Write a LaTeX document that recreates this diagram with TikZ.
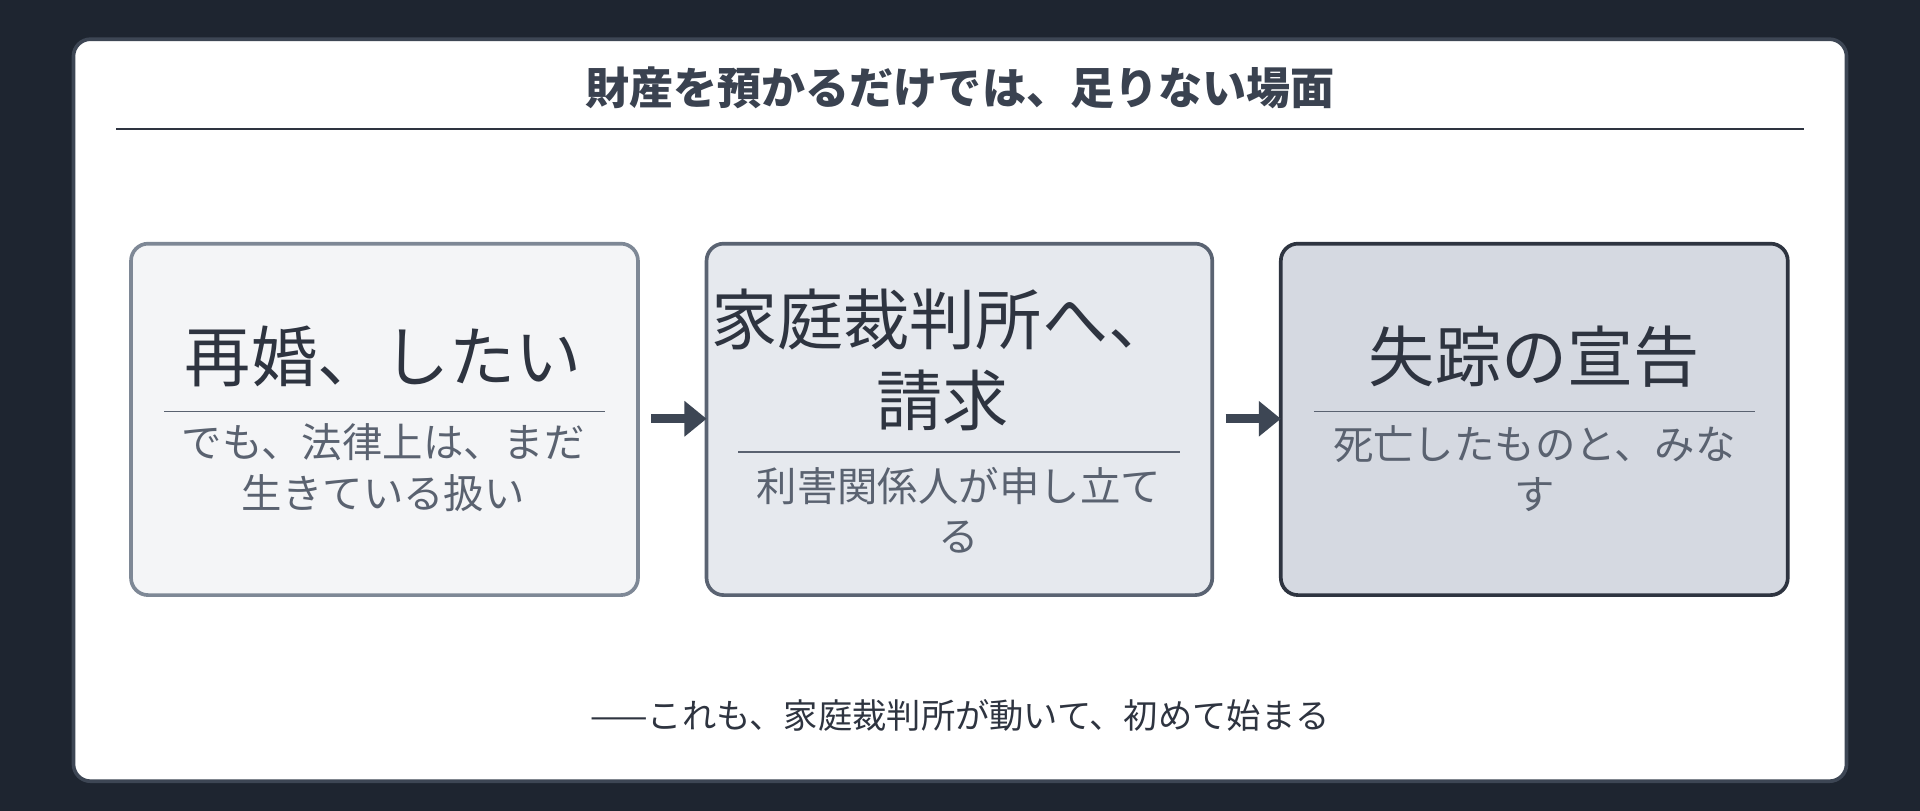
\documentclass[tikz,border=0pt]{standalone}
\usepackage{fontspec}
\setmainfont{Noto Sans CJK JP}
\usetikzlibrary{arrows.meta}
\definecolor{bg}{HTML}{1E2530}
\definecolor{cardb}{HTML}{3D4654}
\definecolor{ttl}{HTML}{3A4250}
\definecolor{sub}{HTML}{5A6270}
\definecolor{fa}{HTML}{F4F5F7}\definecolor{ba}{HTML}{7E8896}
\definecolor{fb}{HTML}{E6E9EE}\definecolor{bb}{HTML}{5A6372}
\definecolor{fc}{HTML}{D5D9E1}\definecolor{bc}{HTML}{2E3440}
\begin{document}
\begin{tikzpicture}[x=0.5pt,y=-0.5pt,
  box/.style={rounded corners=7pt,line width=1.5pt},
  main/.style={font=\fontsize{27}{33}\selectfont,text=bc,align=center,anchor=center},
  subt/.style={font=\fontsize{16.5}{20.5}\selectfont,text=sub,align=center,anchor=center},
  sep/.style={draw=sub,line width=0.7pt},
  arr/.style={-{Triangle[length=9pt,width=14pt]},line width=3.5pt,draw=cardb}]
\useasboundingbox (0,0) rectangle (1568,662);
\fill[bg] (0,0) rectangle (1568,662);
\filldraw[fill=white,draw=cardb,line width=1.5pt,rounded corners=7pt] (60,32) rectangle (1508,638);
\node[font=\bfseries\fontsize{18}{22}\selectfont,text=ttl] (title) at (784,72) {財産を預かるだけでは、足りない場面};
\draw[bc,line width=0.8pt] (95,105) -- (1473,105);
% boxes
\draw[box,fill=fa,draw=ba] (107,199) rectangle (521,486);
\coordinate (a) at (107,342); \coordinate (a2) at (521,342);
\node[main] (m1) at (313,291) {再婚、したい};
\draw[sep] (134,336) -- (494,336);
\node[subt] (s1) at (313,382) {でも、法律上は、まだ\\生きている扱い};
\draw[box,fill=fb,draw=bb] (577,199) rectangle (990,486);
\coordinate (b) at (577,342); \coordinate (b2) at (990,342);
\node[main] (m2) at (770,294) {家庭裁判所へ、\\請求};
\draw[sep] (603,369) -- (964,369);
\node[subt] (s2) at (783,417) {利害関係人が申し立て\\る};
\draw[box,fill=fc,draw=bc] (1046,199) rectangle (1460,486);
\coordinate (c) at (1046,342);
\node[main] (m3) at (1253,291) {失踪の宣告};
\draw[sep] (1073,336) -- (1433,336);
\node[subt] (s3) at (1253,383) {死亡したものと、みな\\す};
\draw[arr] (532,342) -- (b);
\draw[arr] (1001,342) -- (c);
\node[font=\fontsize{14}{17}\selectfont,text=bc] (foot) at (784,584) {——これも、家庭裁判所が動いて、初めて始まる};
\end{tikzpicture}
\end{document}
